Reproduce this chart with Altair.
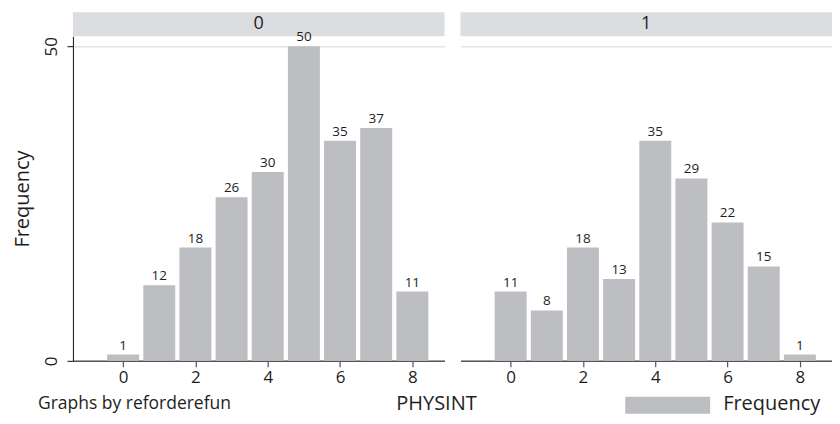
import altair as alt
import pandas as pd

# ---- data ----
physint = [0, 1, 2, 3, 4, 5, 6, 7, 8]
freq_group0 = [1, 12, 18, 26, 30, 50, 35, 37, 11]
freq_group1 = [11, 8, 18, 13, 35, 29, 22, 15, 1]
group_labels = ["0", "1"]
x_ticks = [0, 2, 4, 6, 8]
y_ticks = [0, 50]

BAR = "#bdbec2"
HEAD = "#dcdde0"
TXT = "#1e1e1e"
W, H = 372, 325
FONT = "Open Sans"


def panel(freqs, label, left):
    df = pd.DataFrame({"PHYSINT": physint, "Frequency": freqs})
    x = alt.X(
        "PHYSINT:Q",
        scale=alt.Scale(domain=[-1.25, 8.75], nice=False, zero=False),
        axis=alt.Axis(values=x_ticks, title=None, grid=False, domainColor="#555555",
                      domainWidth=1.5, tickColor="#555555", tickWidth=1.2, tickSize=6,
                      labelFontSize=17, labelPadding=3, labelColor=TXT),
    )
    if left:
        yaxis = alt.Axis(values=y_ticks, title="Frequency", titleFontSize=20,
                         titleFontWeight="normal", titleColor=TXT, titlePadding=10,
                         labelAngle=270, labelFontSize=17, labelPadding=6, labelColor=TXT,
                         tickSize=6, tickColor="#111111", domainColor="#111111",
                         grid=True, gridColor="#e2e2e2", gridWidth=1.5)
    else:
        yaxis = alt.Axis(values=y_ticks, title="", labels=False, ticks=False,
                         domain=False, grid=True, gridColor="#e2e2e2", gridWidth=1.5)
    y = alt.Y("Frequency:Q", scale=alt.Scale(domain=[0, 51.6], nice=False), axis=yaxis)

    base = alt.Chart(df)
    bars = base.mark_bar(size=32, color=BAR).encode(x=x, y=y)
    labels = base.mark_text(dy=-2, baseline="bottom", fontSize=13.5, color=TXT).encode(
        x=x, y=y, text="Frequency:Q")

    hdf = pd.DataFrame({"label": [label]})
    head_rect = alt.Chart(hdf).mark_rect(color=HEAD).encode(
        x=alt.value(0), x2=alt.value(W), y=alt.value(-24), y2=alt.value(0))
    head_text = alt.Chart(hdf).mark_text(fontSize=18, color=TXT, baseline="middle").encode(
        x=alt.value(W / 2), y=alt.value(-12), text="label:N")

    layers = [head_rect, head_text, bars, labels]
    if left:
        ndf = pd.DataFrame({"t": ["Graphs by reforderefun"]})
        note = alt.Chart(ndf).mark_text(fontSize=17.5, color=TXT, align="left",
                                        baseline="middle").encode(
            x=alt.value(-35), y=alt.value(368), text="t:N")
        tdf = pd.DataFrame({"t": ["PHYSINT"]})
        xtitle = alt.Chart(tdf).mark_text(fontSize=20, color=TXT, align="center",
                                          baseline="middle").encode(
            x=alt.value(364), y=alt.value(368), text="t:N")
        layers += [note, xtitle]
    else:
        ldf = pd.DataFrame({"t": ["Frequency"]})
        sym = alt.Chart(ldf).mark_rect(color=BAR).encode(
            x=alt.value(165), x2=alt.value(250), y=alt.value(361), y2=alt.value(378))
        ltxt = alt.Chart(ldf).mark_text(fontSize=20, color=TXT, align="left",
                                        baseline="middle").encode(
            x=alt.value(263), y=alt.value(368), text="t:N")
        layers += [sym, ltxt]
    return alt.layer(*layers).properties(
        width=W, height=H, view=alt.ViewBackground(stroke="transparent", strokeWidth=0))


chart = alt.hconcat(
    panel(freq_group0, group_labels[0], True),
    panel(freq_group1, group_labels[1], False),
    spacing=16,
    bounds="flush",
).properties(
    padding={"left": 5, "top": 4, "right": 0, "bottom": 2}
).configure_view(stroke="transparent", strokeWidth=0).configure(font=FONT)

chart.save("out.html", embed_options={"renderer": "svg", "actions": False})
